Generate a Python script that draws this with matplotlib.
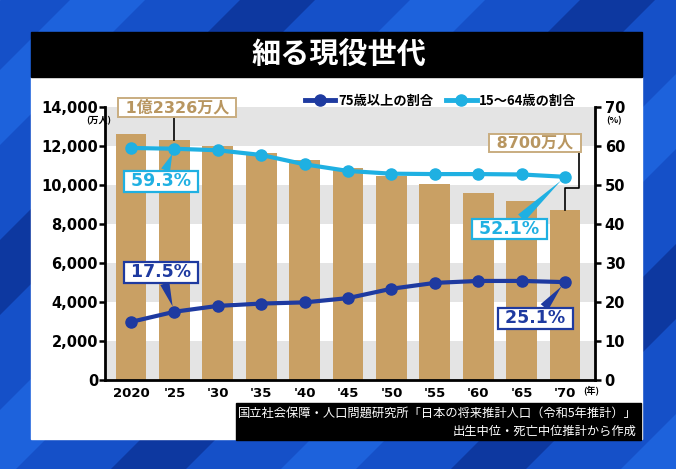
import matplotlib
matplotlib.use("Agg")
import matplotlib.pyplot as plt
from matplotlib.patches import Polygon, Rectangle
from matplotlib.lines import Line2D
import numpy as np

plt.rcParams['font.family'] = ['DejaVu Sans', 'Noto Sans CJK JP']
JP = 'Noto Sans CJK JP'

# data
year_labels = ['2020', "'25", "'30", "'35", "'40", "'45", "'50", "'55", "'60", "'65", "'70"]
population = [12615, 12326, 12012, 11664, 11284, 10880, 10469, 10051, 9615, 9159, 8700]  # 万人
share_75plus = [14.9, 17.5, 19.0, 19.6, 19.9, 21.0, 23.4, 24.9, 25.4, 25.4, 25.1]      # %
share_15_64 = [59.5, 59.3, 58.9, 57.7, 55.3, 53.6, 52.9, 52.8, 52.8, 52.7, 52.1]       # %

left_ticks = [0, 2000, 4000, 6000, 8000, 10000, 12000, 14000]
right_ticks = [0, 10, 20, 30, 40, 50, 60, 70]

BAR = '#c9a064'
NAVY = '#1e3aa0'
CYAN = '#1fb0e2'
TAN_TXT = '#b89660'

W, H = 676, 469
fig = plt.figure(figsize=(W / 100, H / 100), dpi=100)

# ---- background: blue stripes, white panel, title bar
bg = fig.add_axes([0, 0, 1, 1])
bg.set_xlim(0, W)
bg.set_ylim(H, 0)
bg.axis('off')
bg.add_patch(Rectangle((0, 0), W, H, color='#1550c8'))
for i, x0 in enumerate(range(-100, 1300, 170)):
    col = '#0d38a0' if i % 2 == 0 else '#1d62dc'
    sw = 75
    bg.add_patch(Polygon([(x0, 0), (x0 + sw, 0), (x0 + sw - H, H), (x0 - H, H)],
                         closed=True, color=col, lw=0))
bg.add_patch(Rectangle((31, 77), 611, 362, color='white'))
bg.add_patch(Rectangle((31, 32), 611, 45, color='black'))
bg.add_patch(Rectangle((236, 403), 405, 37, color='black'))
bg.text(339, 54, '細る現役世代', color='white', fontsize=21, fontweight='bold',
        family=JP, ha='center', va='center')
bg.text(637, 413, '国立社会保障・人口問題研究所「日本の将来推計人口（令和5年推計）」',
        color='white', fontsize=8.8, family=JP, ha='right', va='center')
bg.text(637, 431, '出生中位・死亡中位推計から作成',
        color='white', fontsize=8.8, family=JP, ha='right', va='center')

# ---- main axes
ax = fig.add_axes([105 / W, 89 / H, 490 / W, 273 / H])
x = np.arange(len(year_labels))
ax.set_xlim(-0.6, 10.69)
ax.set_ylim(0, 14000)
for lo in (0, 4000, 8000, 12000):
    ax.axhspan(lo, lo + 2000, color='#e4e4e4', lw=0, zorder=0)
ax.bar(x, population, width=0.71, color=BAR, zorder=2)

ax.set_xticks(x)
ax.set_xticklabels(year_labels, fontsize=9.5, fontweight='bold')
ax.set_yticks(left_ticks)
ax.set_yticklabels([f'{v:,}' for v in left_ticks], fontsize=10.5, fontweight='bold')
ax.tick_params(axis='x', length=0, pad=5)
ax.tick_params(axis='y', direction='out', length=4, width=1.8, pad=1)
for s in ('top', 'right'):
    ax.spines[s].set_visible(False)
for s in ('left', 'bottom'):
    ax.spines[s].set_linewidth(2)

ax2 = ax.twinx()
ax2.set_ylim(0, 70)
ax2.set_yticks(right_ticks)
ax2.set_yticklabels([str(v) for v in right_ticks], fontsize=10.5, fontweight='bold')
ax2.tick_params(axis='y', direction='out', length=4, width=1.8, pad=3)
for s in ('top', 'left', 'bottom'):
    ax2.spines[s].set_visible(False)
ax2.spines['right'].set_linewidth(2)

ax2.plot(x, share_75plus, color=NAVY, lw=3, marker='o', ms=8, zorder=3)
ax2.plot(x, share_15_64, color=CYAN, lw=3, marker='o', ms=8, zorder=3)

# unit labels
ax.text(-0.45, 13300, '(万人)', fontsize=6.5, family=JP, fontweight='bold',
        ha='right', va='center', clip_on=False)
ax2.text(10.95, 66.4, '(%)', fontsize=6.5, family=JP, fontweight='bold',
         ha='left', va='center', clip_on=False)
ax.text(10.42, -530, '(年)', fontsize=6.5, family=JP, fontweight='bold',
        ha='left', va='center', clip_on=False)

# legend
handles = [Line2D([], [], color=NAVY, lw=3.5, marker='o', ms=8),
           Line2D([], [], color=CYAN, lw=3.5, marker='o', ms=8)]
fig.legend(handles, ['75歳以上の割合', '15〜64歳の割合'], ncol=2, frameon=False,
           loc='center left', bbox_to_anchor=(305 / W, 1 - 101 / H),
           prop={'family': JP, 'weight': 'bold', 'size': 9.5},
           handlelength=2.3, handletextpad=0.2, columnspacing=1.0,
           borderpad=0, borderaxespad=0)

# population call-outs
def tan_box(xc, yc, txt):
    ax.text(xc, yc, txt, color=TAN_TXT, fontsize=11.5, fontweight='bold',
            ha='center', va='center', clip_on=False, zorder=6,
            bbox=dict(boxstyle='square,pad=0.12', fc='white', ec='#c9ad80', lw=1.4))

tan_box(1.06, 13970, ' 1億2326万人 ')
ax.plot([1, 1], [13420, population[1]], color='black', lw=1.2, zorder=5, clip_on=False)
tan_box(9.31, 12150, ' 8700万人 ')
ax.plot([10.32, 10.32, 10.0, 10.0], [11700, 9850, 9850, population[-1]],
        color='black', lw=1.2, zorder=5)

# share call-outs
def pct_box(i, series, xc, yc, color):
    ax2.annotate(f' {series[i]}% ', xy=(i, series[i]), xytext=(xc, yc),
                 color=color, fontsize=12.5, fontweight='bold',
                 ha='center', va='center', zorder=6, annotation_clip=False,
                 bbox=dict(boxstyle='square,pad=0.08', fc='white', ec=color, lw=1.6),
                 arrowprops=dict(arrowstyle='wedge,tail_width=0.55,shrink_factor=0.5',
                                 fc=color, ec=color, lw=0, shrinkA=0, shrinkB=4))

pct_box(1, share_15_64, 0.69, 50.9, CYAN)
pct_box(1, share_75plus, 0.69, 27.6, NAVY)
pct_box(10, share_15_64, 8.72, 38.7, CYAN)
pct_box(10, share_75plus, 9.31, 15.8, NAVY)

fig.savefig('out.png', dpi=100)
